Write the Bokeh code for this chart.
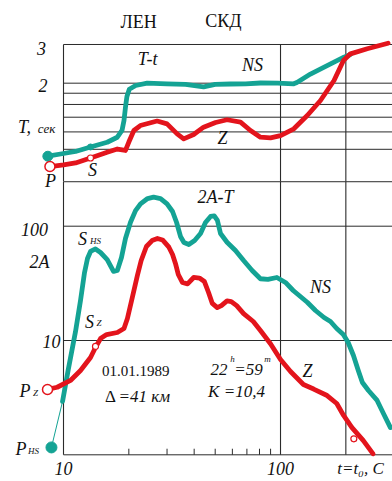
from bokeh.plotting import figure
from bokeh.models import Range1d, LogScale
from bokeh.core.properties import value
from bokeh.embed import file_html
from bokeh.resources import INLINE

# ---------------- data ----------------
# upper panel: period T (s) against time t (s)
t_ns_T = [8.47, 10, 11.36, 13.32, 15.9, 17.7, 18.6, 19.0, 19.3, 19.6, 20.1, 21.5, 24.3, 30, 36.5,
          44.2, 50, 58.8, 69, 80.8, 97, 115, 119, 137.4, 164, 196, 210]
T_ns = [0.93, 0.957, 0.978, 1.025, 1.077, 1.135, 1.218, 1.352, 1.555, 1.74, 1.876, 1.952, 2.0, 1.987,
        1.973, 1.924, 1.973, 1.983, 1.987, 2.004, 2.0, 1.987, 2.015, 2.20, 2.404, 2.625, 2.70]

t_z_T = [8.66, 10, 11.36, 13.32, 15.9, 17.7, 19.3, 20.0, 21.1, 22.6, 27.0, 30.0, 33.4, 35.8, 39.8,
         44.2, 50.2, 56.7, 65.4, 72.7, 80.8, 89.9, 100, 115.2, 132.8, 152.8, 176.4, 195, 210, 251, 313]
T_z = [0.835, 0.849, 0.867, 0.913, 0.970, 1.003, 0.988, 1.079, 1.218, 1.283, 1.345, 1.306, 1.176,
       1.116, 1.168, 1.261, 1.324, 1.363, 1.329, 1.218, 1.135, 1.128, 1.155, 1.240, 1.425, 1.668,
       2.057, 2.535, 2.72, 2.87, 3.04]

# lower panel: amplitude 2A against time t (s)
t_hs = [9.9, 10.5, 11.36, 11.98, 12.5, 12.9, 13.32, 14.04, 14.81, 15.9, 17.0, 17.7, 18.5, 19.3, 20.36,
        21.47, 22.64, 24.4, 26.0, 28.0, 30.0, 31.8, 33.2, 34.6, 35.9, 37.8, 40.2, 42.8, 45.1, 47.6,
        49.5, 51.2, 52.9, 56.7, 62.0, 67.6, 74.0, 80.8, 87.5, 96.2, 105.4, 114.4, 132.8, 144.9,
        158.6, 169.9, 181.5, 194.7, 205, 216.8, 228.2, 238.4, 254.2, 278.7, 298, 321]
A_hs = [2.93, 5.46, 11.98, 22.4, 39.4, 52.2, 60.1, 63.2, 58.9, 51.1, 40.2, 41.0, 53.2, 78.1, 108.4,
        137, 157, 174.6, 179.4, 174.6, 157, 134.5, 107.7, 81.3, 72.0, 69.2, 75, 86.3, 107.7, 121.6,
        122.9, 112.2, 86.3, 72.4, 61.3, 50.1, 41.0, 34.7, 34.2, 35.6, 32.2, 27.4, 21.6, 18.3,
        15.9, 14.66, 12.73, 11.28, 9.6, 7.39, 5.46, 4.29, 3.65, 2.99, 2.30, 1.73]

t_z_A = [8.44, 9.35, 10.77, 11.98, 13.32, 14.04, 14.81, 15.8, 17.7, 19.0, 19.7, 20.7, 21.9, 22.8,
         24.1, 25.6, 27.1, 28.6, 30.6, 31.8, 32.8, 33.8, 35.3, 37.3, 39.8, 42.3, 44.6, 46.6, 48.5,
         51.1, 53.4, 56.7, 59.3, 62.8, 67.6, 74.9, 80.8, 89.9, 100, 111.2, 127.5, 142.1, 163.9,
         181.6, 195.3, 213, 240.8, 267]
A_z = [3.73, 3.90, 4.47, 5.46, 7.10, 8.69, 10.4, 11.28, 11.75, 12.73, 15.57, 23.3, 37.0, 50.1,
       66.4, 74.9, 78.1, 75.8, 65.5, 56.5, 47.2, 37.8, 32.2, 31.3, 35.6, 35.2, 32.8, 26.3, 21.1,
       19.4, 20.2, 22.2, 21.9, 20.2, 17.2, 14.66, 12.23, 9.36, 6.82, 5.36, 4.12, 3.76, 3.30,
       2.81, 2.21, 1.74, 1.33, 1.02]

# P arrival on the horizontal component, joined by a thin line
t_phs = [8.8, 9.9]
A_phs = [1.16, 2.93]

# small marks on the curves
t_mark_z_T, T_mark_z = [13.32], [0.913]
t_mark_ns_T, T_mark_ns = [13.32], [1.025]
t_mark_z_A, A_mark_z = [14.04, 217.7], [8.87, 1.38]

# grid / ticks
T_grid = [1.0, 1.2, 1.4, 1.6, 1.8, 2.0, 3.0]
A_grid = [1, 10, 100]
t_vlines = [10, 100, 200]
t_minor = [20, 30, 40, 50, 60, 70, 80, 90]

# ---------------- figure ----------------
T_LOW, T_HIGH = 0.03076, 4.757       # upper-panel scale over the whole canvas
A_LOW, A_HIGH = 0.584, 9433          # lower-panel scale over the whole canvas
X_LOW, X_HIGH = 5.125, 328.1
T_SEP, A_SEP = 0.714, 245            # border between the two panels
A_TICK = 1.13

TEAL = "#14a394"
RED = "#e3141c"
INK = "#2b2b2b"
FONT = value("Liberation Serif")

p = figure(width=392, height=481, x_axis_type="log", y_axis_type="log",
           x_range=Range1d(X_LOW, X_HIGH), y_range=Range1d(T_LOW, T_HIGH),
           x_axis_location=None, y_axis_location=None,
           toolbar_location=None, output_backend="svg", min_border=0)
p.extra_y_ranges = {"amp": Range1d(A_LOW, A_HIGH)}
p.extra_y_scales = {"amp": LogScale()}
p.outline_line_color = None
p.xgrid.visible = False
p.ygrid.visible = False
p.background_fill_color = "white"
p.border_fill_color = "white"

# frame and grid lines
n = len(T_grid)
p.segment(x0=[10] * n, y0=T_grid, x1=[X_HIGH] * n, y1=T_grid, line_color=INK, line_width=1)
m = len(A_grid)
p.segment(x0=[10] * m, y0=A_grid, x1=[X_HIGH] * m, y1=A_grid, line_color=INK, line_width=1,
          y_range_name="amp")
p.segment(x0=[10], y0=[A_SEP], x1=[X_HIGH], y1=[A_SEP], line_color=INK, line_width=1,
          y_range_name="amp")
k = len(t_vlines)
p.segment(x0=t_vlines, y0=[3.0] * k, x1=t_vlines, y1=[T_SEP] * k, line_color=INK, line_width=1.1)
p.segment(x0=t_vlines, y0=[A_SEP] * k, x1=t_vlines, y1=[1] * k, line_color=INK, line_width=1.1,
          y_range_name="amp")
q = len(t_minor)
p.segment(x0=t_minor, y0=[1] * q, x1=t_minor, y1=[A_TICK] * q, line_color=INK, line_width=1,
          y_range_name="amp")

# curves
p.line(t_phs, A_phs, line_color=TEAL, line_width=1, y_range_name="amp")
p.line(t_hs, A_hs, line_color=TEAL, line_width=4.8, line_join="round", line_cap="round",
       y_range_name="amp")
p.line(t_z_A, A_z, line_color=RED, line_width=4.8, line_join="round", line_cap="round",
       y_range_name="amp")
p.line(t_ns_T, T_ns, line_color=TEAL, line_width=4.8, line_join="round", line_cap="round")
p.line(t_z_T, T_z, line_color=RED, line_width=4.8, line_join="round", line_cap="round")

# markers
p.scatter(t_ns_T[:1], T_ns[:1], size=10, color=TEAL)
p.scatter(t_z_T[:1], T_z[:1], size=10, fill_color="white", line_color=RED, line_width=1.5)
p.scatter(t_phs[:1], A_phs[:1], size=11, color=TEAL, y_range_name="amp")
p.scatter(t_z_A[:1], A_z[:1], size=10, fill_color="white", line_color=RED, line_width=1.5,
          y_range_name="amp")
p.scatter(t_mark_z_T, T_mark_z, size=6, fill_color="white", line_color=RED, line_width=1.2)
p.scatter(t_mark_ns_T, T_mark_ns, size=6, color=TEAL)
p.scatter(t_mark_z_A, A_mark_z, size=6, fill_color="white", line_color=RED, line_width=1.2,
          y_range_name="amp")

# ---------------- texts ----------------
def txt(xs, ys, texts, size, style="italic", rng=None, align="center"):
    kw = dict(text_font=FONT, text_font_style=style, text_font_size=size, text_align=align,
              text_baseline="middle", text_color="#111111")
    if rng:
        kw["y_range_name"] = rng
    p.text(x=xs, y=ys, text=texts, **kw)

# upper panel
txt([22.2, 54.6], [3.78, 3.82], ["ЛЕН", "СКД"], "18px", style="normal")
txt([7.92, 8.04, 8.71, 13.6, 24.4, 74.3, 54.0],
    [2.88, 1.952, 0.721, 0.809, 2.564, 2.43, 1.12],
    ["3", "2", "P", "S", "T-t", "NS", "Z"], "18px")
txt([6.61], [1.257], ["T,"], "18px")
txt([8.35], [1.244], ["сек"], "13px")

# lower panel
txt([50.2, 7.35, 7.75, 8.8, 10, 100, 133.2, 152.8, 12.24, 13.18, 6.65, 6.37],
    [178.3, 93.6, 49.1, 9.8, 0.762, 0.762, 5.36, 29.1, 76.5, 14.66, 3.65, 1.113],
    ["2A-T", "100", "2A", "10", "10", "100", "Z", "NS", "S", "S", "P", "P"], "18px", rng="amp")
txt([14.04, 14.58, 7.43, 7.27], [73.5, 14.37, 3.44, 1.07], ["HS", "Z", "Z", "HS"], "9px",
    rng="amp")
txt([21.5], [5.36], ["01.01.1989"], "15px", style="normal", rng="amp")
txt([16.47], [3.24], ["Δ"], "17px", style="normal", rng="amp")
txt([17.93], [3.24], ["=41 км"], "17px", rng="amp", align="left")
txt([62.7], [3.58], ["K =10,4"], "17px", rng="amp")
txt([52.1, 71.2], [5.58, 5.58], ["22", "=59"], "17px", rng="amp")
txt([60.1, 87.1], [6.82, 6.82], ["h", "m"], "9px", rng="amp")
txt([233.7], [0.762], ["t=t₀, C"], "17px", rng="amp")

open("out.html", "w").write(file_html(p, INLINE))
